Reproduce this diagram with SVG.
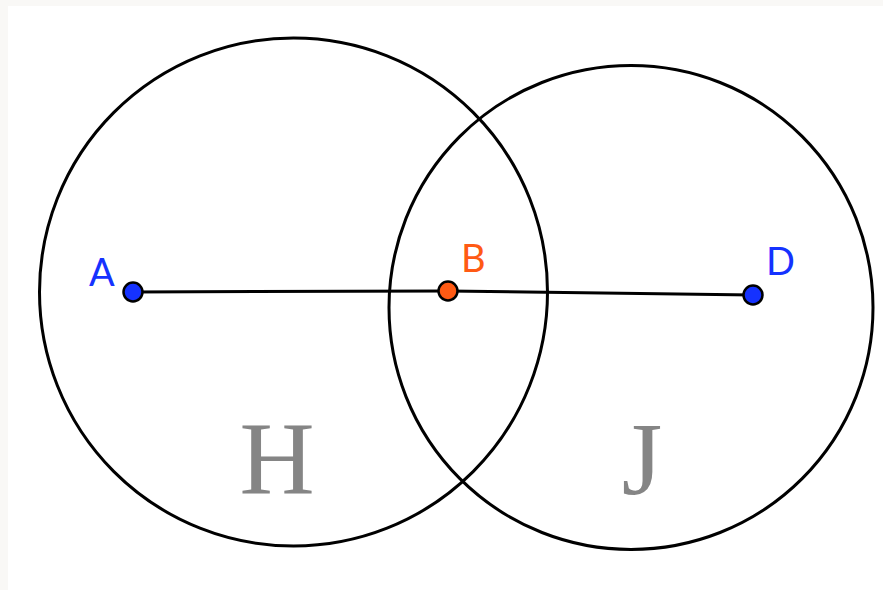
<svg xmlns="http://www.w3.org/2000/svg" width="883" height="590" viewBox="0 0 883 590">
<style>
.circ{fill:none;stroke:#000;stroke-width:3}
.seg{stroke:#000;stroke-width:3;fill:none}
.pt{stroke:#000;stroke-width:2.5}
.blue{fill:#1532ff}
.orange{fill:#ff5a14}
.lbl{font-family:"Lato","Noto Sans",sans-serif;font-size:38px}
.big{font-family:"Liberation Serif",serif;font-size:104px;fill:#858585}
</style>
<rect x="0" y="0" width="883" height="590" fill="#f9f8f6"/>
<rect x="8" y="6" width="875" height="584" fill="#fff"/>
<g id="H"><circle class="circ" cx="293.5" cy="292" r="254"/><text class="big" x="277" y="494" text-anchor="middle">H</text></g>
<g id="J"><circle class="circ" cx="631" cy="307.5" r="242"/><text class="big" x="642" y="494" text-anchor="middle">J</text></g>
<g id="connectors"><polyline class="seg" points="133,292 448,291 753,295"/></g>
<g id="A"><circle class="pt blue" cx="133" cy="292" r="9.5"/><text class="lbl blue" x="89" y="286">A</text></g>
<g id="B"><circle class="pt orange" cx="448" cy="291" r="9.5"/><text class="lbl orange" x="461" y="272">B</text></g>
<g id="D"><circle class="pt blue" cx="753" cy="295" r="9.5"/><text class="lbl blue" x="766" y="275">D</text></g>
</svg>
